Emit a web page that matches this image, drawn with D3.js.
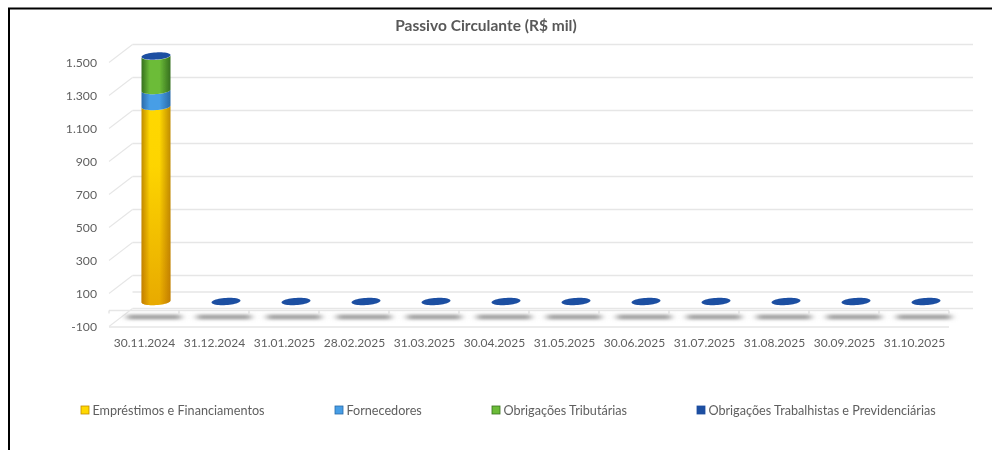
<!DOCTYPE html>
<html><head><meta charset="utf-8">
<script src="https://cdn.jsdelivr.net/npm/d3@7/dist/d3.min.js"></script>
<style>html,body{margin:0;padding:0;background:#fff}svg{display:block}text{font-family:Lato,"Open Sans",sans-serif}</style>
</head><body><svg id="c" width="992" height="450"></svg>
<script>
const title = "Passivo Circulante (R$ mil)";
const categories = ["30.11.2024","31.12.2024","31.01.2025","28.02.2025","31.03.2025","30.04.2025","31.05.2025","30.06.2025","31.07.2025","31.08.2025","30.09.2025","31.10.2025"];
const seriesNames = ["Empréstimos e Financiamentos","Fornecedores","Obrigações Tributárias","Obrigações Trabalhistas e Previdenciárias"];
const emprestimos = [1182,0,0,0,0,0,0,0,0,0,0,0];
const fornecedores = [97,0,0,0,0,0,0,0,0,0,0,0];
const tributarias = [207,0,0,0,0,0,0,0,0,0,0,0];
const trabalhistas = [2,0,0,0,0,0,0,0,0,0,0,0];
const tickValues = [-100,100,300,500,700,900,1100,1300,1500];
const tickLabels = ["-100","100","300","500","700","900","1.100","1.300","1.500"];
const seriesColors = [
  {edge:"#c08c00",mid:"#ffd800"},
  {edge:"#2a6aa8",mid:"#469ee6"},
  {edge:"#36701e",mid:"#6cbc38"},
  {edge:"#1c4c9e",mid:"#1f4fa2"}];

const svg = d3.select("#c");
const defs = svg.append("defs");
const y = d3.scaleLinear().domain([-100,1500]).range([326.5,62.5]);
const x = d3.scaleBand().domain(categories).range([109,949]);
const depthX = 23.5, backDy = -18, midDy = -8.5, midDx = 12;
const grid = "#e6e6e6", txt = "#5f5f5f";

const soft = defs.append("filter").attr("id","soft").attr("filterUnits","userSpaceOnUse").attr("x",0).attr("y",0).attr("width",992).attr("height",450);
soft.append("feGaussianBlur").attr("stdDeviation",0.35);
const sh = defs.append("filter").attr("id","sh").attr("filterUnits","userSpaceOnUse").attr("x",0).attr("y",290).attr("width",992).attr("height",50);
sh.append("feGaussianBlur").attr("stdDeviation","3.5 1.7");
seriesColors.forEach((c,i)=>{
  const g = defs.append("linearGradient").attr("id","g"+i);
  [[0,c.edge],[.28,c.mid],[.62,c.mid],[1,c.edge]].forEach(s=>g.append("stop").attr("offset",s[0]).attr("stop-color",s[1]));
});
const dark = defs.append("linearGradient").attr("id","dark").attr("x1",0).attr("x2",0).attr("y1",0).attr("y2",1);
dark.append("stop").attr("offset",0).attr("stop-color","#c86a00").attr("stop-opacity",0);
dark.append("stop").attr("offset",.3).attr("stop-color","#c86a00").attr("stop-opacity",.03);
dark.append("stop").attr("offset",1).attr("stop-color","#c86a00").attr("stop-opacity",.42);

// frame
svg.append("path").attr("d","M9,450V8.5H992").attr("fill","none").attr("stroke","#000").attr("stroke-width",2);

const plot = svg.append("g").attr("filter","url(#soft)");
// back wall gridlines + side wall
const gridVals = [...tickValues,0].sort(d3.ascending);
plot.selectAll("line.b").data(gridVals).join("line")
  .attr("x1",109+depthX).attr("x2",973)
  .attr("y1",d=>y(d)+backDy).attr("y2",d=>y(d)+backDy)
  .attr("stroke",grid).attr("stroke-width",1.3);
plot.selectAll("line.d").data(tickValues).join("line")
  .attr("x1",109).attr("x2",109+depthX)
  .attr("y1",d=>y(d)).attr("y2",d=>y(d)+backDy)
  .attr("stroke",grid).attr("stroke-width",1.1);
// floor front edge, axis line and ticks
[-100,0].forEach(v=>plot.append("line").attr("x1",109).attr("x2",949).attr("y1",y(v)+.5).attr("y2",y(v)+.5).attr("stroke",grid).attr("stroke-width",1.3));
plot.selectAll("line.t").data(d3.range(13)).join("line")
  .attr("x1",d=>109+d*x.bandwidth()).attr("x2",d=>109+d*x.bandwidth())
  .attr("y1",y(0)+.5).attr("y2",y(0)+3.5).attr("stroke","#d9d9d9");
// shadows
plot.selectAll("rect.s").data(categories).join("rect")
  .attr("x",d=>x(d)+18).attr("width",x.bandwidth()-16)
  .attr("y",y(-100)-12).attr("height",5).attr("fill","#a2a2a2").attr("filter","url(#sh)");

// bars
const rx = 14.5, ry = 3.6, tilt = 0.9;
const cx = d => x(d)+x.bandwidth()/2+midDx;
const yb = v => y(v)+midDy;
const series = [emprestimos,fornecedores,tributarias,trabalhistas];
const line = d3.line();
const rimPoint = (c,yy,t) => [c+rx*Math.cos(t), yy+ry*Math.sin(t)-tilt*Math.cos(t)];
const frontRim = (c,yy) => d3.range(0,25).map(i=>rimPoint(c,yy,Math.PI*i/24));
const ellipse = (c,yy) => line(d3.range(0,48).map(i=>rimPoint(c,yy,Math.PI*i/24)))+"Z";
categories.forEach((cat,ci)=>{
  let acc = 0;
  const c = cx(cat);
  const g = plot.append("g");
  series.forEach((s,si)=>{
    const v = s[ci];
    if(v<=0 || si===3) { acc+=v; return; }
    const y0=yb(acc), y1=yb(acc+v);
    const pts=[...frontRim(c,y0),...frontRim(c,y1).reverse()];
    const d=line(pts)+"Z";
    g.append("path").attr("d",d).attr("fill",`url(#g${si})`);
    if(si===0) g.append("path").attr("d",d).attr("fill","url(#dark)");
    acc+=v;
  });
  g.append("path").attr("d",ellipse(c,yb(acc))).attr("fill",seriesColors[3].mid);
});

// labels
const labels = svg.append("g").attr("filter","url(#soft)").attr("fill",txt);
labels.selectAll("text.y").data(tickValues).join("text")
  .attr("x",97).attr("y",(d)=>y(d)+4.5).attr("text-anchor","end").attr("font-size",12.2).text((d,i)=>tickLabels[i]);
labels.selectAll("text.x").data(categories).join("text")
  .attr("x",d=>x(d)+x.bandwidth()/2+.5).attr("y",347).attr("text-anchor","middle").attr("font-size",12).text(d=>d);
svg.append("text").attr("filter","url(#soft)").attr("x",486).attr("y",31).attr("text-anchor","middle")
  .attr("font-size",15.5).attr("font-weight",700).attr("fill","#595959").text(title);
const legendPos = [81,335,492,697];
const leg = svg.append("g").attr("filter","url(#soft)").selectAll("g").data(seriesNames).join("g")
  .attr("transform",(d,i)=>`translate(${legendPos[i]},406)`);
leg.append("rect").attr("width",8).attr("height",8).attr("fill",(d,i)=>seriesColors[i].mid).attr("stroke",(d,i)=>seriesColors[i].edge).attr("stroke-width",.8);
leg.append("text").attr("x",11.4).attr("y",9).attr("font-size",12.65).attr("fill",txt).text(d=>d);
</script></body></html>
